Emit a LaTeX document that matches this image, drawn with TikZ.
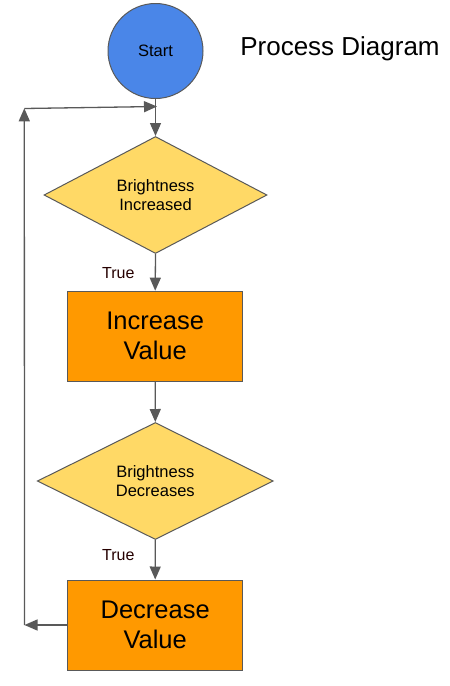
\documentclass[tikz,border=0pt]{standalone}
\usepackage{fontspec}
\setmainfont{Liberation Sans}
\usetikzlibrary{shapes.geometric,arrows.meta}
\definecolor{startblue}{HTML}{4A86E8}
\definecolor{decyellow}{HTML}{FFD966}
\definecolor{procorange}{HTML}{FF9900}
\definecolor{edgegray}{HTML}{595959}
\tikzset{
  smallfont/.style={font=\fontsize{16.5}{19}\selectfont},
  bigfont/.style={font=\fontsize{25.5}{30}\selectfont},
  startnode/.style={circle,draw=edgegray,line width=1pt,fill=startblue,minimum size=95pt,inner sep=0pt,smallfont},
  decision/.style={diamond,draw=edgegray,line width=1pt,fill=decyellow,minimum height=117pt,inner sep=0pt,align=center,smallfont},
  process/.style={rectangle,draw=edgegray,line width=1pt,fill=procorange,minimum width=175pt,minimum height=90pt,inner sep=0pt,align=center,bigfont},
  flow/.style={draw=edgegray,line width=1.3pt,-{Triangle[length=13pt,width=11pt]}},
  plainline/.style={draw=edgegray,line width=1.3pt},
  truelabel/.style={anchor=base,inner sep=0pt,font=\fontsize{16}{19}\selectfont,text=black!85!red}
}
\begin{document}
\begin{tikzpicture}[x=1pt,y=-1pt]
\useasboundingbox[fill=white] (0,0) rectangle (450,686);
\node[startnode] (start) at (155.5,51) {Start};
\node[anchor=base,inner sep=0pt,font=\fontsize{26}{30}\selectfont] (title) at (340,55) {Process Diagram};
\node[decision,minimum width=223pt] (d1) at (155.5,195) {Brightness\\Increased};
\node[process] (r1) at (155.2,336.2) {Increase\\Value};
\node[decision,minimum width=236pt] (d2) at (155.3,481) {Brightness\\Decreases};
\node[process] (r2) at (155.2,625) {Decrease\\Value};
\node[truelabel] (t1) at (118.3,278.3) {True};
\node[truelabel] (t2) at (118.3,560.7) {True};
\coordinate (bl) at (24.5,625);
\coordinate (tl) at (24.3,108.3);
\coordinate (hl) at (24.3,108.5);
\coordinate (hr) at (157,106.5);
\draw[flow] (start.south) -- (d1.north);
\draw[flow] (d1.south) -- (r1.north);
\draw[flow] (r1.south) -- (d2.north);
\draw[flow] (d2.south) -- (r2.north);
\draw[flow] (r2.west) -- (bl);
\draw[flow] (bl) -- (tl);
\draw[flow] (hl) -- (hr);
\end{tikzpicture}
\end{document}
